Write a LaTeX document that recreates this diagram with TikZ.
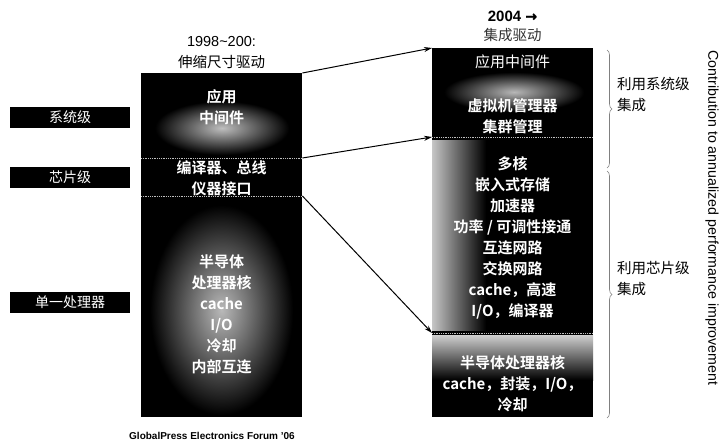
\documentclass[tikz,border=0pt]{standalone}
\usepackage{fontspec}
\setmainfont{Liberation Sans}
\newfontfamily\cjk{Noto Sans CJK SC}
\newfontfamily\cjkb{Noto Sans CJK SC}[UprightFont={* Bold}]
\newfontfamily\arrowfont{DejaVu Sans}[FakeBold=1.5]
\usetikzlibrary{decorations.pathreplacing,arrows.meta}
\begin{document}
\begin{tikzpicture}[x=1pt,y=-1pt,
  sect/.style={fill=black,draw=none,minimum width=161pt,inner sep=0pt,anchor=north west},
  boxtxt/.style={text=white,font=\cjkb\fontsize{15}{21}\selectfont,align=center,inner sep=0pt},
  boxreg/.style={text=white,font=\cjk\fontsize{15}{21}\selectfont,align=center,inner sep=0pt},
  lvl/.style={fill=black,text=white,font=\cjk\fontsize{14}{16}\selectfont,minimum width=120pt,minimum height=21pt,inner sep=0pt},
  ttl/.style={font=\cjk\fontsize{14.5}{17}\selectfont,inner sep=0pt},
  divider/.style={white!75!black,densely dotted,line width=0.8pt},
  conn/.style={-{Stealth[length=8pt,width=5pt]},line width=1pt},
  brc/.style={decorate,decoration={brace,amplitude=5pt},gray,line width=0.6pt},
  side/.style={font=\cjk\fontsize{14.5}{21}\selectfont,align=left,anchor=west,inner sep=0pt}]
\useasboundingbox (0,0) rectangle (726,444);
\fill[white] (0,0) rectangle (726,444);

% left column sections
\node[sect,minimum height=85pt] (L1) at (141,73) {};
\node[sect,minimum height=38pt] (L2) at (141,158) {};
\node[sect,minimum height=221pt] (L3) at (141,196) {};
% right column sections
\node[sect,minimum height=89pt] (R1) at (432,48) {};
\node[sect,minimum height=196pt] (R2) at (432,137) {};
\node[sect,minimum height=84pt] (R3) at (432,333) {};

% glows
\shade[inner color=white!75!black,outer color=black] (155,101) rectangle (289,155);
\shade[inner color=gray!55,outer color=black] (150,205) rectangle (293,415);
\shade[inner color=white!72!black,outer color=black] (444,72) rectangle (584,112);
\shade[left color=gray!45,right color=black] (432,140) rectangle (486,330);
\shade[top color=gray!38,bottom color=black] (432,335) rectangle (593,380);

% dividers
\draw[divider] (L1.south west) -- (L1.south east);
\draw[divider] (L2.south west) -- (L2.south east);
\draw[divider] (R1.south west) -- (R1.south east);
\draw[divider] (R2.south west) -- (R2.south east);

% texts in left column
\node[boxtxt] (l1a) at (221.5,97) {应用};
\node[boxtxt] (l1b) at (221.5,118) {中间件};
\node[boxtxt] (l2) at (221.5,178.5) {编译器、总线\\仪器接口};
\node[boxtxt] (l3) at (221.5,314) {半导体\\处理器核\\cache\\I/O\\冷却\\内部互连};

% texts in right column
\node[boxreg] (r1a) at (512.5,62) {应用中间件};
\node[boxtxt] (r1b) at (512.5,116) {虚拟机管理器\\集群管理};
\node[boxtxt] (r2) at (512.5,237.5) {多核\\嵌入式存储\\加速器\\功率 / 可调性接通\\互连网路\\交换网路\\cache，高速\\I/O，编译器};
\node[boxtxt] (r3) at (512.5,383.5) {半导体处理器核\\cache，封装，I/O，\\冷却};

% titles
\node[font=\fontsize{14.5}{17}\selectfont,inner sep=0pt] (t1) at (221.5,42) {1998\textasciitilde200:};
\node[ttl] (t2) at (221.5,62) {伸缩尺寸驱动};
\node[font=\bfseries\fontsize{15}{17}\selectfont,inner sep=0pt] (t3) at (512.5,16) {2004 {\arrowfont\fontsize{14}{17}\selectfont →}};
\node[ttl,text=black!80] (t4) at (512.5,35) {集成驱动};

% level labels
\node[lvl] (s1) at (70,117.5) {系统级};
\node[lvl] (s2) at (70,177) {芯片级};
\node[lvl] (s3) at (70,302.5) {单一处理器};

% connectors
\draw[conn] (L1.north east) -- (R1.north west);
\draw[conn] (L2.north east) -- (R2.north west);
\draw[conn] (L3.north east) -- (R3.north west);

% braces
\draw[brc] (607,50) -- (607,168);
\draw[brc] (607,171) -- (607,418);
\node[side] (b1) at (617,95) {利用系统级\\集成};
\node[side] (b2) at (617,279) {利用芯片级\\集成};

% vertical axis text
\node[rotate=-90,font=\fontsize{14.2}{16}\selectfont,inner sep=0pt] (ax) at (712,218) {Contribution to annualized performance improvement};

% footer
\node[font=\bfseries\fontsize{10}{12}\selectfont,inner sep=0pt] (ft) at (212,436) {GlobalPress Electronics Forum '06};
\end{tikzpicture}
\end{document}
